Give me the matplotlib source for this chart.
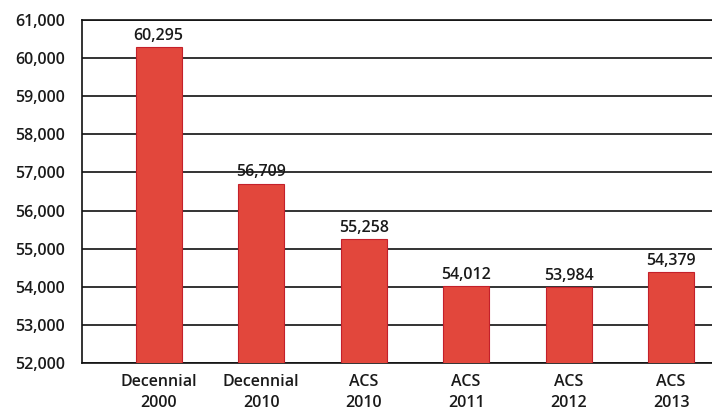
import matplotlib.pyplot as plt

categories = ['Decennial\n2000', 'Decennial\n2010', 'ACS\n2010', 'ACS\n2011', 'ACS\n2012', 'ACS\n2013']
values = [60295, 56709, 55258, 54012, 53984, 54379]
yticks = list(range(52000, 61001, 1000))

plt.rcParams['font.family'] = ['Open Sans', 'DejaVu Sans']

fig = plt.figure(figsize=(7.12, 4.19), dpi=100)
ax = fig.add_axes([0.115, 0.134, 0.885, 0.818])

x = list(range(len(categories)))
ax.bar(x, values, width=0.45, bottom=0, color='#e2473c', edgecolor='#c4202a',
       linewidth=0.8, zorder=3)

for xi, v in zip(x, values):
    ax.text(xi, v + 80, f'{v:,}', ha='center', va='bottom', fontsize=11.5,
            color='#1a1a1a', fontweight='semibold', zorder=4)

ax.set_ylim(52000, 61000)
ax.set_xlim(-0.75, 5.4)
ax.set_yticks(yticks)
ax.set_yticklabels([f'{t:,}' for t in yticks], fontsize=11.5, color='#1a1a1a',
                   fontweight='semibold')
ax.set_xticks(x)
ax.set_xticklabels(categories, fontsize=11.5, color='#1a1a1a',
                   fontweight='semibold', linespacing=1.45)
ax.tick_params(axis='both', length=0)
ax.tick_params(axis='y', pad=12)
ax.tick_params(axis='x', pad=8)

ax.yaxis.grid(True, color='#111111', linewidth=1.2, zorder=0)
ax.set_axisbelow(True)
for s in ['right']:
    ax.spines[s].set_visible(False)
for s in ['left', 'bottom', 'top']:
    ax.spines[s].set_color('#111111')
    ax.spines[s].set_linewidth(1.2)

fig.savefig('out.png', dpi=100)
